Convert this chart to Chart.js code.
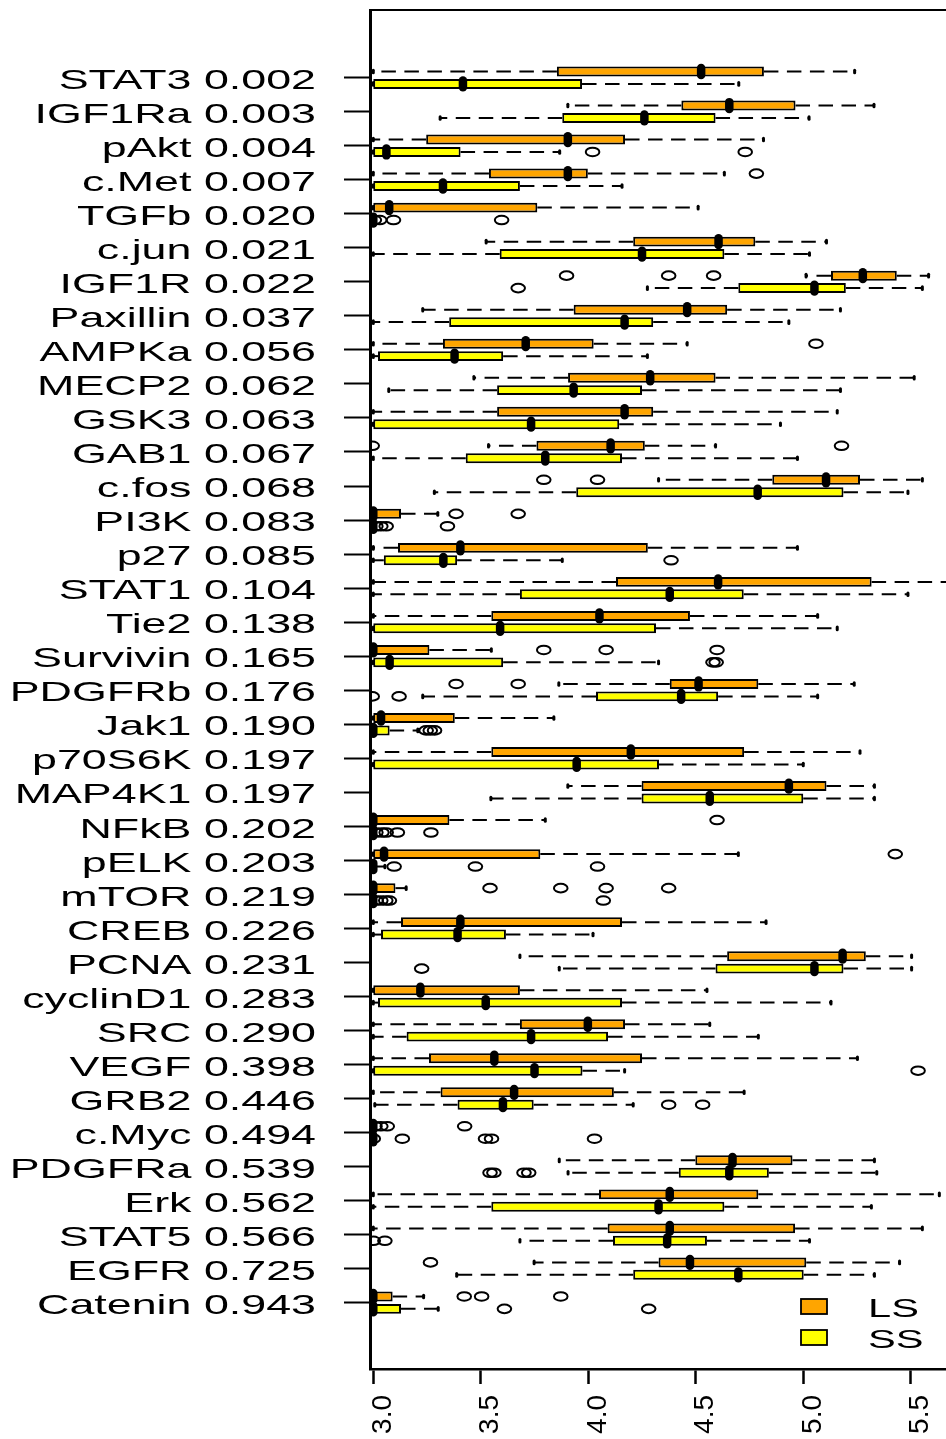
<!DOCTYPE html>
<html>
<head>
<meta charset="utf-8">
<script src="https://cdn.jsdelivr.net/npm/chart.js@4.4.1/dist/chart.umd.min.js"></script>
<style>
html,body{margin:0;padding:0;background:#fff;}
#wrap{width:946px;height:1439px;position:relative;}
</style>
</head>
<body>
<div id="wrap"><canvas id="c"></canvas></div>
<script>
// ---------------- DATA ----------------
const genes = ['STAT3','IGF1Ra','pAkt','c.Met','TGFb','c.jun','IGF1R','Paxillin','AMPKa','MECP2',
  'GSK3','GAB1','c.fos','PI3K','p27','STAT1','Tie2','Survivin','PDGFRb','Jak1',
  'p70S6K','MAP4K1','NFkB','pELK','mTOR','CREB','PCNA','cyclinD1','SRC','VEGF',
  'GRB2','c.Myc','PDGFRa','Erk','STAT5','EGFR','Catenin'];
const pValues = ['0.002','0.003','0.004','0.007','0.020','0.021','0.022','0.037','0.056','0.062',
  '0.063','0.067','0.068','0.083','0.085','0.104','0.138','0.165','0.176','0.190',
  '0.197','0.197','0.202','0.203','0.219','0.226','0.231','0.283','0.290','0.398',
  '0.446','0.494','0.539','0.562','0.566','0.725','0.943'];

// LS series (orange)
const lsLo  = [3.0,3.905,3.0,3.0,3.0,3.525,5.013,3.23,3.0,3.468,3.0,3.536,4.327,3.0,3.0,3.0,3.0,3.0,3.863,3.0,3.0,3.905,3.0,3.0,3.0,3.0,3.682,3.0,3.0,3.0,3.0,3.0,3.865,3.0,3.0,3.748,3.0];
const lsQ1  = [3.854,4.433,3.246,3.538,3.0,4.209,5.129,3.932,3.324,3.906,3.576,3.759,4.856,3.0,3.115,4.129,3.549,3.0,4.379,3.0,3.549,4.248,3.0,3.0,3.0,3.129,4.646,3.0,3.682,3.259,3.313,3.0,4.498,4.05,4.09,4.327,3.0];
const lsMed = [4.525,4.656,3.905,3.905,3.074,4.606,5.277,4.46,3.709,4.288,4.169,4.104,5.106,3.0,3.405,4.604,4.052,3.0,4.513,3.036,4.198,4.933,3.0,3.05,3.0,3.405,5.183,3.219,3.998,3.563,3.655,3.0,4.671,4.379,4.379,4.473,3.0];
const lsQ3  = [4.817,4.964,4.171,3.998,3.763,4.777,5.435,4.646,4.025,4.592,4.302,4.263,5.264,3.129,4.277,5.318,4.473,3.261,4.791,3.379,4.725,5.108,3.354,3.777,3.103,4.157,5.291,3.682,4.171,4.25,4.119,3.0,4.95,4.791,4.962,5.014,3.09];
const lsHi  = [5.239,5.329,4.815,4.633,4.511,5.108,5.583,5.173,4.46,5.516,5.158,4.592,5.554,3.3,4.973,5.72,5.067,3.549,5.237,3.84,5.264,5.331,3.8,4.698,3.153,4.827,5.504,4.552,4.565,5.252,4.725,3.0,5.331,5.633,5.554,5.448,3.234];
const lsOutliers = [[],[],[],[4.782],[],[],[3.899,4.374,4.583],[],[5.059],[],
  [],[2.995,5.178],[3.793,4.043],[3.385,3.674],[],[],[],[3.793,4.083,4.599],[3.385,3.674],[],
  [],[],[4.599],[5.428],[3.543,3.872,4.083,4.374],[],[],[],[],[],
  [],[3.008,3.035,3.065,3.425],[],[],[],[3.266],[3.423,3.504,3.872]];

// SS series (yellow)
const ssLo  = [3.0,3.311,3.0,3.0,3.0,3.0,4.275,3.0,3.0,3.072,3.0,3.0,3.284,3.0,3.0,3.0,3.0,3.0,3.23,3.0,3.0,3.547,3.0,3.0,3.0,3.0,3.865,3.0,3.0,3.0,3.007,3.0,3.906,3.0,3.682,3.388,3.0];
const ssQ1  = [3.0,3.879,3.0,3.0,3.0,3.588,4.698,3.353,3.022,3.576,3.0,3.43,3.944,3.0,3.049,3.682,3.0,3.0,4.036,3.0,3.0,4.248,3.0,3.0,3.0,3.036,4.592,3.022,3.155,3.0,3.392,3.0,4.421,3.549,4.115,4.209,3.0];
const ssMed = [3.417,4.261,3.061,3.324,3.0,4.25,5.052,4.169,3.378,3.932,3.734,3.8,4.788,3.0,3.326,4.379,3.59,3.076,4.432,3.0,3.946,4.565,3.0,3.0,3.0,3.392,5.052,3.523,3.734,3.75,3.603,3.0,4.656,4.327,4.367,4.698,3.0];
const ssQ3  = [3.971,4.592,3.406,3.682,3.0,4.633,5.198,4.302,3.604,4.25,4.144,4.157,5.187,3.0,3.39,4.723,4.315,3.604,4.604,3.076,4.329,5.0,3.0,3.016,3.0,3.617,5.187,4.157,4.092,3.973,3.746,3.0,4.84,4.633,4.552,5.002,3.129];
const ssHi  = [4.70,5.027,3.867,4.157,3.0,5.029,5.554,4.933,4.275,5.173,4.894,4.973,5.487,3.0,3.879,5.487,5.158,4.327,5.067,3.207,5.0,5.331,3.0,3.054,3.0,4.022,5.504,5.129,4.791,4.169,4.209,3.0,5.342,5.317,5.029,5.331,3.302];
const ssOutliers = [[],[],[4.02,4.73],[],[3.005,3.03,3.094,3.597],[],[3.674],[],[],[],
  [],[],[],[3.012,3.035,3.06,3.345],[4.385],[],[],[4.58,4.595],[2.995,3.12],[3.246,3.265,3.285],
  [],[],[3.012,3.04,3.06,3.112,3.268],[3.097,3.475,4.043],[3.013,3.035,3.058,3.075,4.07],[],[3.225],[],[],[5.534],
  [4.374,4.532],[3.0,3.135,3.522,3.55,4.029],[3.543,3.561,3.701,3.723],[],[3.0,3.054],[],[3.61,4.281]];

const xTickValues = [3.0, 3.5, 4.0, 4.5, 5.0, 5.5];
const seriesNames = ['LS', 'SS'];
const seriesColors = ['#FFA500', '#FFFF00'];

// ---------------- BUILD ----------------
const FONT = "'Liberation Sans', Arial, Helvetica, sans-serif";
const TEXT_STRETCH = 1.6;
const categoryLabels = genes.map((g, i) => g + ' ' + pValues[i]);

const seriesDefs = [
  {label: seriesNames[0], color: seriesColors[0], lo: lsLo, q1: lsQ1, med: lsMed, q3: lsQ3, hi: lsHi, out: lsOutliers},
  {label: seriesNames[1], color: seriesColors[1], lo: ssLo, q1: ssQ1, med: ssMed, q3: ssQ3, hi: ssHi, out: ssOutliers}
];

const datasets = seriesDefs.map(s => ({
  type: 'bar',
  label: s.label,
  data: genes.map((g, i) => ({y: i, x: [s.q1[i], s.q3[i]]})),
  backgroundColor: s.color,
  borderColor: '#000',
  borderWidth: 2,
  borderSkipped: false,
  categoryPercentage: 0.73,
  barPercentage: 0.8
}));

function clipArea(ctx, a) {
  ctx.beginPath();
  ctx.rect(a.left, a.top, a.right - a.left, a.bottom - a.top);
  ctx.clip();
}

function forEachBox(chart, fn) {
  seriesDefs.forEach((s, d) => {
    const meta = chart.getDatasetMeta(d);
    meta.data.forEach((bar, i) => fn(s, i, bar.y, bar.height));
  });
}

const boxplotExtras = {
  id: 'boxplotExtras',
  beforeDraw(chart) {
    const sc = chart.scales.y;
    if (sc && !sc.__stretched) {
      const orig = sc.drawLabels;
      sc.drawLabels = function (area) {
        const ctx = this.ctx;
        const ax = this.right - this.options.grid.tickLength - this.options.ticks.padding;
        ctx.save();
        ctx.translate(ax, 0); ctx.scale(TEXT_STRETCH, 1); ctx.translate(-ax, 0);
        orig.call(this, area);
        ctx.restore();
      };
      sc.__stretched = true;
    }
  },
  beforeDatasetsDraw(chart) {
    const ctx = chart.ctx, xs = chart.scales.x, a = chart.chartArea;
    ctx.save();
    clipArea(ctx, a);
    ctx.strokeStyle = '#000';
    ctx.lineWidth = 2;
    ctx.lineCap = 'butt';
    ctx.setLineDash([14.5, 8.5]);
    forEachBox(chart, (s, i, y) => {
      const pLo = xs.getPixelForValue(s.lo[i]), pQ1 = xs.getPixelForValue(s.q1[i]);
      const pQ3 = xs.getPixelForValue(s.q3[i]), pHi = xs.getPixelForValue(s.hi[i]);
      if (pQ1 - pLo > 0.5) { ctx.beginPath(); ctx.moveTo(pQ1, y); ctx.lineTo(pLo, y); ctx.stroke(); }
      if (pHi - pQ3 > 0.5) { ctx.beginPath(); ctx.moveTo(pQ3, y); ctx.lineTo(pHi, y); ctx.stroke(); }
    });
    ctx.setLineDash([]);
    ctx.lineWidth = 3;
    ctx.lineCap = 'round';
    forEachBox(chart, (s, i, y) => {
      [s.lo[i], s.hi[i]].forEach(v => {
        const p = xs.getPixelForValue(v);
        ctx.beginPath(); ctx.moveTo(p, y - 1.3); ctx.lineTo(p, y + 1.3); ctx.stroke();
      });
    });
    ctx.restore();
  },
  afterDatasetsDraw(chart) {
    const ctx = chart.ctx, xs = chart.scales.x, a = chart.chartArea;
    ctx.save();
    clipArea(ctx, a);
    ctx.strokeStyle = '#000';
    ctx.lineWidth = 8.5;
    ctx.lineCap = 'round';
    forEachBox(chart, (s, i, y) => {
      const p = xs.getPixelForValue(s.med[i]);
      ctx.beginPath(); ctx.moveTo(p, y - 3.4); ctx.lineTo(p, y + 3.4); ctx.stroke();
    });
    ctx.lineWidth = 2;
    forEachBox(chart, (s, i, y) => {
      s.out[i].forEach(v => {
        const p = xs.getPixelForValue(v);
        ctx.beginPath(); ctx.ellipse(p, y, 6.8, 4.3, 0, 0, Math.PI * 2); ctx.stroke();
      });
    });
    ctx.restore();
  },
  afterDraw(chart) {
    const ctx = chart.ctx, a = chart.chartArea;
    ctx.save();
    ctx.strokeStyle = '#000';
    ctx.lineWidth = 2;
    ctx.beginPath(); ctx.moveTo(a.left, a.top); ctx.lineTo(a.right, a.top); ctx.stroke();
    seriesDefs.forEach((s, k) => {
      const left = a.right - 145, top = a.bottom - 70 + k * 31;
      ctx.fillStyle = s.color;
      ctx.fillRect(left, top, 26, 15);
      ctx.lineWidth = 1.8;
      ctx.strokeStyle = '#000';
      ctx.strokeRect(left, top, 26, 15);
      const tx = a.right - 78, ty = top + 7.5 + 3;
      ctx.save();
      ctx.translate(tx, ty); ctx.scale(TEXT_STRETCH, 1);
      ctx.fillStyle = '#000';
      ctx.font = '26px ' + FONT;
      ctx.textAlign = 'left';
      ctx.textBaseline = 'middle';
      ctx.fillText(s.label, 0, 0);
      ctx.restore();
    });
    ctx.restore();
  }
};

new Chart(document.getElementById('c'), {
  type: 'bar',
  data: {datasets},
  options: {
    responsive: true,
    maintainAspectRatio: false,
    animation: false,
    indexAxis: 'y',
    layout: {padding: {top: 10, left: 0, right: 0, bottom: 0}, autoPadding: false},
    plugins: {legend: {display: false}, tooltip: {enabled: false}},
    scales: {
      x: {
        type: 'linear', position: 'bottom', min: 2.9847, max: 5.664, bounds: 'data', offset: false,
        afterBuildTicks: sc => { sc.ticks = xTickValues.map(v => ({value: v})); },
        afterFit: sc => { sc.height = 70; sc.paddingLeft = 0; sc.paddingRight = 0; },
        grid: {offset: false, drawOnChartArea: false, drawTicks: true, tickLength: 15, tickWidth: 2.5, tickColor: '#000', color: '#000'},
        border: {display: true, color: '#000', width: 2.5},
        ticks: {minRotation: 90, maxRotation: 90, autoSkip: false, padding: 11, labelOffset: 10,
          color: '#000', font: {family: FONT, size: 28}, callback: v => Number(v).toFixed(1)}
      },
      y: {
        type: 'linear', reverse: true, min: -1.99, max: 37.95, bounds: 'data', offset: false,
        afterBuildTicks: sc => { sc.ticks = categoryLabels.map((l, i) => ({value: i})); },
        afterFit: sc => { sc.width = 370; sc.paddingTop = 0; sc.paddingBottom = 0; },
        grid: {offset: false, drawOnChartArea: false, drawTicks: true, tickLength: 26, tickWidth: 2, tickColor: '#000', color: '#000'},
        border: {display: true, color: '#000', width: 3},
        ticks: {autoSkip: false, padding: 28, labelOffset: 3.5, color: '#000',
          font: {family: FONT, size: 28}, callback: v => categoryLabels[Math.round(v)]}
      }
    }
  },
  plugins: [boxplotExtras]
});
</script>
</body>
</html>
